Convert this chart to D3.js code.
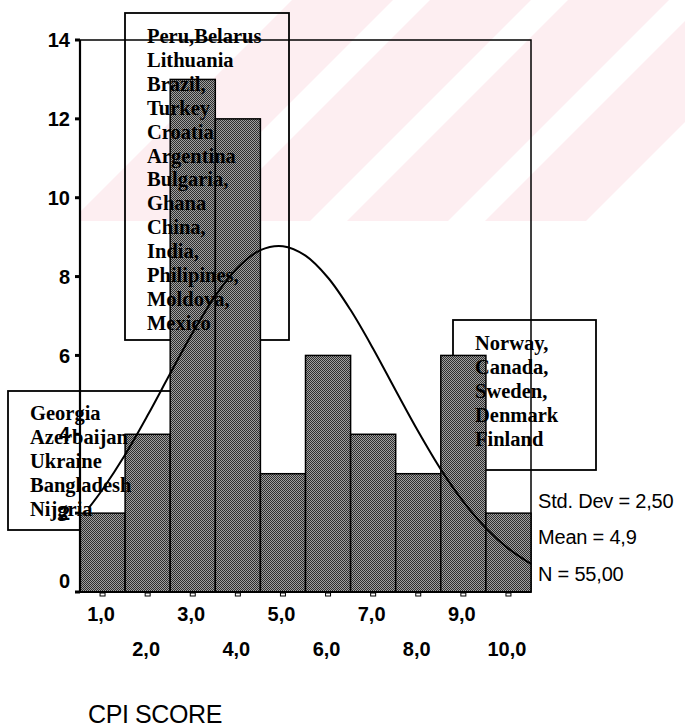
<!DOCTYPE html>
<html>
<head>
<meta charset="utf-8">
<script src="https://cdn.jsdelivr.net/npm/d3@7"></script>
<style>
  html, body { margin: 0; padding: 0; background: #fff; }
  svg { display: block; }
</style>
</head>
<body>
<svg id="chart" width="685" height="727"></svg>
<script>
// ---------------- data ----------------
const binCenters = [1, 2, 3, 4, 5, 6, 7, 8, 9, 10];
const counts     = [2, 4, 13, 12, 3, 6, 4, 3, 6, 2];
const yTicks     = [0, 2, 4, 6, 8, 10, 12, 14];
const xTickValues = [1, 2, 3, 4, 5, 6, 7, 8, 9, 10];
const xTickLabels = ["1,0", "2,0", "3,0", "4,0", "5,0", "6,0", "7,0", "8,0", "9,0", "10,0"];
// normal curve (mean 4,9  sd 2,50  N 55)
const curveX = [0.7, 1.0, 1.5, 2.0, 2.5, 3.0, 3.5, 4.0, 4.5, 5.0, 5.5, 6.0, 6.5, 7.0, 7.5, 8.0, 8.5, 9.0, 9.5, 10.0, 10.5];
const curveY = [2.14, 2.60, 3.48, 4.48, 5.54, 6.58, 7.51, 8.23, 8.67, 8.77, 8.53, 7.97, 7.15, 6.17, 5.11, 4.07, 3.11, 2.29, 1.62, 1.10, 0.71];
const groupLow  = ["Georgia", "Azerbaijan", "Ukraine", "Bangladesh", "Nijgria"];
const groupMid  = ["Peru,Belarus", "Lithuania", "Brazil,", "Turkey", "Croatia", "Argentina", "Bulgaria,", "Ghana", "China,", "India,", "Philipines,", "Moldova,", "Mexico"];
const groupHigh = ["Norway,", "Canada,", "Sweden,", "Denmark", "Finland"];
const statsLines = ["Std. Dev = 2,50", "Mean = 4,9", "N = 55,00"];
const axisTitle = "CPI SCORE";

// ---------------- layout ----------------
const svg = d3.select("#chart");
const x = d3.scaleLinear().domain([0.5, 10.5]).range([80, 531]);
const y = d3.scaleLinear().domain([0, 14]).range([592, 40]);
const sansFont = "Arial, 'Liberation Sans', Helvetica, sans-serif";
const serifFont = "'Times New Roman', 'Liberation Serif', serif";

// defs: dithered pattern for bars
const defs = svg.append("defs");
const pat = defs.append("pattern").attr("id", "dither")
  .attr("patternUnits", "userSpaceOnUse").attr("width", 2).attr("height", 2);
pat.append("rect").attr("width", 2).attr("height", 2).attr("fill", "#a0a0a0");
pat.append("rect").attr("x", 0).attr("y", 0).attr("width", 1).attr("height", 1).attr("fill", "#2e2e2e");
pat.append("rect").attr("x", 1).attr("y", 1).attr("width", 1).attr("height", 1).attr("fill", "#2e2e2e");

// faint watermark stripes in the upper area
const stripeG = svg.append("g");
const clip = defs.append("clipPath").attr("id", "wmclip");
clip.append("rect").attr("x", 80).attr("y", 0).attr("width", 605).attr("height", 221);
[-1, 0, 1, 2].forEach(k => {
  const a = 393 + 138 * k + 37, b = 393 + 138 * (k + 1);
  stripeG.append("polygon")
    .attr("clip-path", "url(#wmclip)")
    .attr("points", `${a},0 ${b},0 ${b - 221},221 ${a - 221},221`)
    .attr("fill", "#fdeef1");
});

// annotation boxes (outlines)
const boxes = [
  { x0: 125, y0: 13, x1: 289, y1: 340, tx: 147, ty: 43, names: groupMid },
  { x0: 8, y0: 391, x1: 173, y1: 530, tx: 30, ty: 420, names: groupLow },
  { x0: 453, y0: 320, x1: 596, y1: 470, tx: 475, ty: 350, names: groupHigh }
];
boxes.forEach(b => {
  svg.append("rect").attr("x", b.x0).attr("y", b.y0)
    .attr("width", b.x1 - b.x0).attr("height", b.y1 - b.y0)
    .attr("fill", "none").attr("stroke", "#000").attr("stroke-width", 1.8);
});

// plot frame
svg.append("rect").attr("x", x(0.5)).attr("y", y(14))
  .attr("width", x(10.5) - x(0.5)).attr("height", y(0) - y(14))
  .attr("fill", "none").attr("stroke", "#000").attr("stroke-width", 1.5);

// bars
svg.append("g").selectAll("rect").data(binCenters).join("rect")
  .attr("x", (d) => x(d - 0.5))
  .attr("y", (d, i) => y(counts[i]))
  .attr("width", (d) => x(d + 0.5) - x(d - 0.5))
  .attr("height", (d, i) => y(0) - y(counts[i]))
  .attr("fill", "url(#dither)")
  .attr("stroke", "#000").attr("stroke-width", 1.5);

// axes lines
svg.append("line").attr("x1", x(0.5)).attr("x2", x(0.5)).attr("y1", y(14)).attr("y2", y(0))
  .attr("stroke", "#000").attr("stroke-width", 2.2);
svg.append("line").attr("x1", x(0.5) - 2).attr("x2", x(10.5)).attr("y1", y(0)).attr("y2", y(0))
  .attr("stroke", "#000").attr("stroke-width", 2);

// y ticks + labels
const yAxisG = svg.append("g");
yAxisG.selectAll("line").data(yTicks).join("line")
  .attr("x1", 75).attr("x2", x(0.5)).attr("y1", d => y(d)).attr("y2", d => y(d))
  .attr("stroke", "#000").attr("stroke-width", 3);
yAxisG.selectAll("text").data(yTicks).join("text")
  .attr("x", 70).attr("y", d => y(d) - (d === 0 ? 11 : 0)).attr("dy", "0.36em")
  .attr("text-anchor", "end")
  .attr("font-family", sansFont).attr("font-weight", "bold").attr("font-size", 20)
  .text(d => d);

// x ticks + labels (staggered)
const xAxisG = svg.append("g");
xAxisG.selectAll("rect").data(xTickValues).join("rect")
  .attr("x", d => x(d) - 2.5).attr("y", y(0) + 1).attr("width", 5).attr("height", 3)
  .attr("fill", "none").attr("stroke", "#000").attr("stroke-width", 1);
xAxisG.selectAll("text").data(xTickValues).join("text")
  .attr("x", d => x(d) - 1.5)
  .attr("y", (d, i) => (i % 2 === 0 ? 621 : 656))
  .attr("text-anchor", "middle")
  .attr("font-family", sansFont).attr("font-weight", "bold").attr("font-size", 20)
  .text((d, i) => xTickLabels[i]);

// normal curve
const line = d3.line().x(d => x(d[0])).y(d => y(d[1])).curve(d3.curveCatmullRom);
svg.append("path").datum(curveX.map((v, i) => [v, curveY[i]]))
  .attr("d", line).attr("fill", "none").attr("stroke", "#000").attr("stroke-width", 2);

// box texts
boxes.forEach(b => {
  const t = svg.append("text")
    .attr("font-family", serifFont).attr("font-weight", "bold").attr("font-size", 20.5)
    .attr("fill", "#000");
  b.names.forEach((n, i) => {
    t.append("tspan").attr("x", b.tx).attr("y", b.ty + i * 23.9).text(n);
  });
});

// stats
svg.append("g").selectAll("text").data(statsLines).join("text")
  .attr("x", 538).attr("y", (d, i) => 508 + i * 36.3)
  .attr("font-family", sansFont).attr("font-size", 20)
  .attr("letter-spacing", -0.2)
  .text(d => d);

// axis title
svg.append("text").attr("x", 88).attr("y", 723)
  .attr("font-family", sansFont).attr("font-size", 25)
  .attr("letter-spacing", -0.4)
  .text(axisTitle);
</script>
</body>
</html>
